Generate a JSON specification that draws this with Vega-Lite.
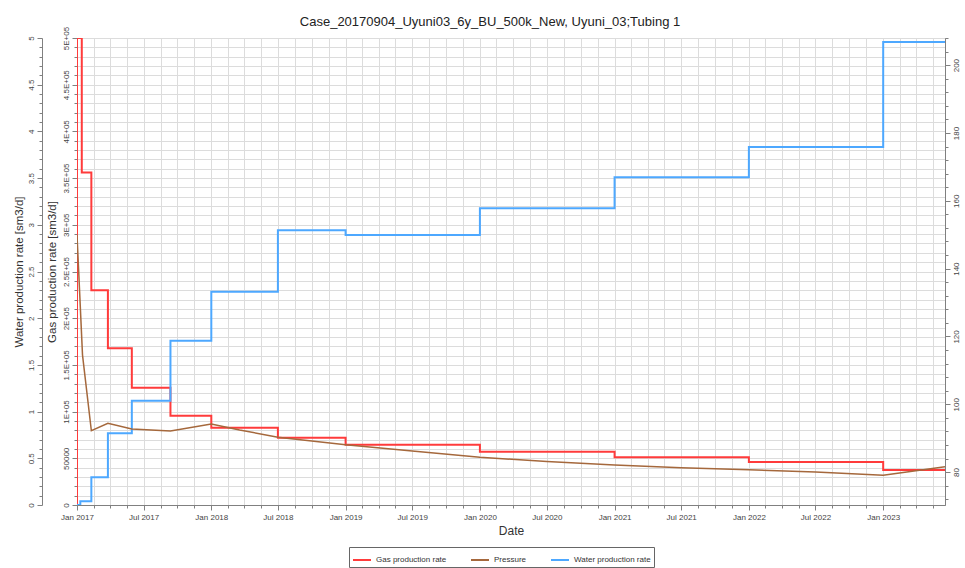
{
  "$schema": "https://vega.github.io/schema/vega-lite/v6.json",
  "width": 868,
  "height": 467,
  "autosize": {"type": "none"},
  "padding": {"left": 77, "top": 38, "right": 20, "bottom": 63},
  "background": "white",
  "title": {
    "text": "Case_20170904_Uyuni03_6y_BU_500k_New, Uyuni_03;Tubing 1",
    "font": "Liberation Sans",
    "fontSize": 13,
    "fontWeight": "normal",
    "color": "#222222",
    "anchor": "middle",
    "dx": -21,
    "offset": -3
  },
  "config": {
    "view": {"stroke": "#888888", "strokeWidth": 1},
    "axis": {
      "labelFont": "Liberation Sans",
      "titleFont": "Liberation Sans",
      "labelColor": "#444444",
      "titleColor": "#333333",
      "domainColor": "#808080",
      "tickColor": "#808080",
      "gridColor": "#dcdcdc",
      "gridWidth": 1,
      "titleFontWeight": "normal"
    },
    "legend": {"labelFont": "Liberation Sans"}
  },
  "data": {
    "values": [
      {"s": "Gas production rate", "d": "2017-01-01T00:00", "v": 0, "i": 1},
      {"s": "Gas production rate", "d": "2017-01-01T00:00", "v": 500000, "i": 2},
      {"s": "Gas production rate", "d": "2017-01-14T00:00", "v": 356000, "i": 3},
      {"s": "Gas production rate", "d": "2017-02-09T00:00", "v": 230000, "i": 4},
      {"s": "Gas production rate", "d": "2017-03-26T00:00", "v": 167800, "i": 5},
      {"s": "Gas production rate", "d": "2017-05-30T00:00", "v": 125600, "i": 6},
      {"s": "Gas production rate", "d": "2017-09-12T00:00", "v": 95600, "i": 7},
      {"s": "Gas production rate", "d": "2018-01-01T00:00", "v": 82800, "i": 8},
      {"s": "Gas production rate", "d": "2018-07-01T00:00", "v": 72000, "i": 9},
      {"s": "Gas production rate", "d": "2019-01-01T00:00", "v": 64600, "i": 10},
      {"s": "Gas production rate", "d": "2020-01-01T00:00", "v": 57100, "i": 11},
      {"s": "Gas production rate", "d": "2021-01-01T00:00", "v": 51000, "i": 12},
      {"s": "Gas production rate", "d": "2022-01-01T00:00", "v": 46000, "i": 13},
      {"s": "Gas production rate", "d": "2023-01-01T00:00", "v": 37500, "i": 14},
      {"s": "Gas production rate", "d": "2023-06-18T00:00", "v": 37500, "i": 15},
      {"s": "Water production rate", "d": "2017-01-01T00:00", "v": 0, "i": 1},
      {"s": "Water production rate", "d": "2017-01-10T00:00", "v": 0.04, "i": 2},
      {"s": "Water production rate", "d": "2017-02-09T00:00", "v": 0.297, "i": 3},
      {"s": "Water production rate", "d": "2017-03-26T00:00", "v": 0.768, "i": 4},
      {"s": "Water production rate", "d": "2017-05-30T00:00", "v": 1.117, "i": 5},
      {"s": "Water production rate", "d": "2017-09-12T00:00", "v": 1.759, "i": 6},
      {"s": "Water production rate", "d": "2018-01-01T00:00", "v": 2.284, "i": 7},
      {"s": "Water production rate", "d": "2018-07-01T00:00", "v": 2.941, "i": 8},
      {"s": "Water production rate", "d": "2019-01-01T00:00", "v": 2.891, "i": 9},
      {"s": "Water production rate", "d": "2020-01-01T00:00", "v": 3.177, "i": 10},
      {"s": "Water production rate", "d": "2021-01-01T00:00", "v": 3.509, "i": 11},
      {"s": "Water production rate", "d": "2022-01-01T00:00", "v": 3.833, "i": 12},
      {"s": "Water production rate", "d": "2023-01-01T00:00", "v": 4.957, "i": 13},
      {"s": "Water production rate", "d": "2023-06-18T00:00", "v": 4.957, "i": 14},
      {"s": "Pressure", "d": "2017-01-01T00:00", "v": 150, "i": 1},
      {"s": "Pressure", "d": "2017-01-16T00:00", "v": 114.5, "i": 2},
      {"s": "Pressure", "d": "2017-02-09T00:00", "v": 92.2, "i": 3},
      {"s": "Pressure", "d": "2017-03-26T00:00", "v": 94.4, "i": 4},
      {"s": "Pressure", "d": "2017-05-30T00:00", "v": 92.7, "i": 5},
      {"s": "Pressure", "d": "2017-09-12T00:00", "v": 92.1, "i": 6},
      {"s": "Pressure", "d": "2018-01-01T00:00", "v": 94.2, "i": 7},
      {"s": "Pressure", "d": "2018-03-19T00:00", "v": 92.4, "i": 8},
      {"s": "Pressure", "d": "2018-07-01T00:00", "v": 90.3, "i": 9},
      {"s": "Pressure", "d": "2019-01-01T00:00", "v": 88.1, "i": 10},
      {"s": "Pressure", "d": "2019-07-01T00:00", "v": 86.2, "i": 11},
      {"s": "Pressure", "d": "2020-01-01T00:00", "v": 84.4, "i": 12},
      {"s": "Pressure", "d": "2020-07-01T00:00", "v": 83.1, "i": 13},
      {"s": "Pressure", "d": "2021-01-01T00:00", "v": 82.1, "i": 14},
      {"s": "Pressure", "d": "2021-07-01T00:00", "v": 81.3, "i": 15},
      {"s": "Pressure", "d": "2022-01-01T00:00", "v": 80.7, "i": 16},
      {"s": "Pressure", "d": "2022-07-01T00:00", "v": 80.0, "i": 17},
      {"s": "Pressure", "d": "2023-01-01T00:00", "v": 79.1, "i": 18},
      {"s": "Pressure", "d": "2023-06-18T00:00", "v": 81.6, "i": 19}
    ]
  },
  "encoding": {
    "x": {
      "field": "d",
      "type": "temporal",
      "scale": {"domain": [{"year": 2017, "month": 1, "date": 1}, {"year": 2023, "month": 6, "date": 18}], "nice": false},
      "axis": {
        "title": "Date",
        "titleFontSize": 12,
        "titlePadding": 4,
        "labelFontSize": 8,
        "labelPadding": 3,
        "labelFlush": false,
        "labelOverlap": false,
        "grid": true,
        "tickSize": {"condition": {"test": "(month(datum.value) == 0 || month(datum.value) == 6) && date(datum.value) == 1", "value": 5}, "value": 3},
        "labelExpr": "(month(datum.value) == 0 || month(datum.value) == 6) && date(datum.value) == 1 ? timeFormat(datum.value, '%b %Y') : ''",
        "values": [
          {"year": 2017, "month": 1, "date": 1}, {"year": 2017, "month": 2, "date": 15}, {"year": 2017, "month": 4, "date": 1}, {"year": 2017, "month": 5, "date": 16},
          {"year": 2017, "month": 7, "date": 1}, {"year": 2017, "month": 8, "date": 16}, {"year": 2017, "month": 10, "date": 1}, {"year": 2017, "month": 11, "date": 16},
          {"year": 2018, "month": 1, "date": 1}, {"year": 2018, "month": 2, "date": 15}, {"year": 2018, "month": 4, "date": 1}, {"year": 2018, "month": 5, "date": 16},
          {"year": 2018, "month": 7, "date": 1}, {"year": 2018, "month": 8, "date": 16}, {"year": 2018, "month": 10, "date": 1}, {"year": 2018, "month": 11, "date": 16},
          {"year": 2019, "month": 1, "date": 1}, {"year": 2019, "month": 2, "date": 15}, {"year": 2019, "month": 4, "date": 1}, {"year": 2019, "month": 5, "date": 16},
          {"year": 2019, "month": 7, "date": 1}, {"year": 2019, "month": 8, "date": 16}, {"year": 2019, "month": 10, "date": 1}, {"year": 2019, "month": 11, "date": 16},
          {"year": 2020, "month": 1, "date": 1}, {"year": 2020, "month": 2, "date": 15}, {"year": 2020, "month": 4, "date": 1}, {"year": 2020, "month": 5, "date": 16},
          {"year": 2020, "month": 7, "date": 1}, {"year": 2020, "month": 8, "date": 16}, {"year": 2020, "month": 10, "date": 1}, {"year": 2020, "month": 11, "date": 16},
          {"year": 2021, "month": 1, "date": 1}, {"year": 2021, "month": 2, "date": 15}, {"year": 2021, "month": 4, "date": 1}, {"year": 2021, "month": 5, "date": 16},
          {"year": 2021, "month": 7, "date": 1}, {"year": 2021, "month": 8, "date": 16}, {"year": 2021, "month": 10, "date": 1}, {"year": 2021, "month": 11, "date": 16},
          {"year": 2022, "month": 1, "date": 1}, {"year": 2022, "month": 2, "date": 15}, {"year": 2022, "month": 4, "date": 1}, {"year": 2022, "month": 5, "date": 16},
          {"year": 2022, "month": 7, "date": 1}, {"year": 2022, "month": 8, "date": 16}, {"year": 2022, "month": 10, "date": 1}, {"year": 2022, "month": 11, "date": 16},
          {"year": 2023, "month": 1, "date": 1}, {"year": 2023, "month": 2, "date": 15}, {"year": 2023, "month": 4, "date": 1}, {"year": 2023, "month": 5, "date": 16}
        ]
      }
    },
    "color": {
      "field": "s",
      "type": "nominal",
      "scale": {
        "domain": ["Gas production rate", "Pressure", "Water production rate"],
        "range": ["#ff3b3b", "#a5683c", "#4da8ff"]
      },
      "legend": {
        "title": null,
        "orient": "none",
        "legendX": 272,
        "legendY": 509,
        "direction": "horizontal",
        "symbolType": "stroke",
        "symbolSize": 324,
        "symbolStrokeWidth": 2,
        "labelFontSize": 8,
        "labelColor": "#333333",
        "columnPadding": 20,
        "strokeColor": "#666666",
        "padding": 3,
        "labelOffset": 4
      }
    },
    "order": {"field": "i", "type": "quantitative"}
  },
  "layer": [
    {
      "transform": [{"filter": "datum.s == 'Gas production rate'"}],
      "mark": {"type": "line", "interpolate": "step-after", "strokeWidth": 2, "clip": true},
      "encoding": {
        "y": {
          "field": "v",
          "type": "quantitative",
          "scale": {"domain": [0, 500000], "nice": false},
          "axis": {
            "orient": "left",
            "offset": 0,
            "title": "Gas production rate [sm3/d]",
            "titleFontSize": 11.5,
            "titlePadding": 5,
            "labelFontSize": 8,
            "labelAngle": -90,
            "labelPadding": 2,
            "grid": true,
            "values": [0, 10000, 20000, 30000, 40000, 50000, 60000, 70000, 80000, 90000, 100000, 110000, 120000, 130000, 140000, 150000, 160000, 170000, 180000, 190000, 200000, 210000, 220000, 230000, 240000, 250000, 260000, 270000, 280000, 290000, 300000, 310000, 320000, 330000, 340000, 350000, 360000, 370000, 380000, 390000, 400000, 410000, 420000, 430000, 440000, 450000, 460000, 470000, 480000, 490000, 500000],
            "tickSize": {"condition": {"test": "datum.value % 50000 == 0", "value": 5}, "value": 3},
            "labelExpr": "datum.value % 50000 == 0 ? (datum.value < 100000 ? format(datum.value, 'd') : format(datum.value / 100000, '~g') + 'E+05') : ''"
          }
        }
      }
    },
    {
      "transform": [{"filter": "datum.s == 'Water production rate'"}],
      "mark": {"type": "line", "interpolate": "step-after", "strokeWidth": 2, "clip": true},
      "encoding": {
        "y": {
          "field": "v",
          "type": "quantitative",
          "scale": {"domain": [0, 5], "nice": false},
          "axis": {
            "orient": "left",
            "offset": 35,
            "title": "Water production rate [sm3/d]",
            "titleFontSize": 11.5,
            "titlePadding": 3,
            "labelFontSize": 8,
            "labelAngle": -90,
            "labelPadding": 2,
            "grid": false,
            "values": [0, 0.1, 0.2, 0.3, 0.4, 0.5, 0.6, 0.7, 0.8, 0.9, 1, 1.1, 1.2, 1.3, 1.4, 1.5, 1.6, 1.7, 1.8, 1.9, 2, 2.1, 2.2, 2.3, 2.4, 2.5, 2.6, 2.7, 2.8, 2.9, 3, 3.1, 3.2, 3.3, 3.4, 3.5, 3.6, 3.7, 3.8, 3.9, 4, 4.1, 4.2, 4.3, 4.4, 4.5, 4.6, 4.7, 4.8, 4.9, 5],
            "tickSize": {"condition": {"test": "abs(datum.value * 2 - round(datum.value * 2)) < 0.001", "value": 5}, "value": 3},
            "labelExpr": "abs(datum.value * 2 - round(datum.value * 2)) < 0.001 ? format(datum.value, '~g') : ''"
          }
        }
      }
    },
    {
      "transform": [{"filter": "datum.s == 'Pressure'"}],
      "mark": {"type": "line", "interpolate": "linear", "strokeWidth": 1.5, "clip": true},
      "encoding": {
        "y": {
          "field": "v",
          "type": "quantitative",
          "scale": {"domain": [70.3, 208], "nice": false, "zero": false},
          "axis": {
            "orient": "right",
            "title": null,
            "labelFontSize": 8,
            "labelAngle": -90,
            "labelPadding": 2,
            "grid": false,
            "values": [72, 76, 80, 84, 88, 92, 96, 100, 104, 108, 112, 116, 120, 124, 128, 132, 136, 140, 144, 148, 152, 156, 160, 164, 168, 172, 176, 180, 184, 188, 192, 196, 200, 204, 208],
            "tickSize": {"condition": {"test": "datum.value % 20 == 0", "value": 5}, "value": 3},
            "labelExpr": "datum.value % 20 == 0 ? format(datum.value, 'd') : ''"
          }
        }
      }
    }
  ],
  "resolve": {"scale": {"y": "independent"}}
}
